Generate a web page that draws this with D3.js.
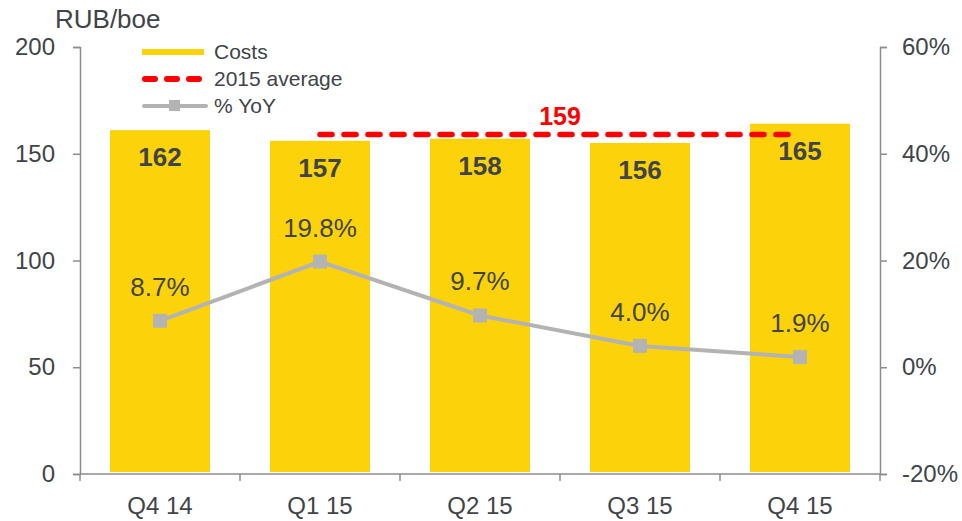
<!DOCTYPE html>
<html>
<head>
<meta charset="utf-8">
<script src="https://cdn.jsdelivr.net/npm/d3@7"></script>
<style>
  body { margin: 0; background: #fff; }
  svg text { font-family: "Liberation Sans", Arial, sans-serif; }
</style>
</head>
<body>
<div id="chart"></div>
<script>
// 資料
var quarters = ["Q4 14", "Q1 15", "Q2 15", "Q3 15", "Q4 15"];
var costs = [162, 157, 158, 156, 165];
var yoy = [8.7, 19.8, 9.7, 4.0, 1.9];
var avgQuarters = ["Q1 15", "Q4 15"];
var avgValue = 159;
var leftTicks = [0, 50, 100, 150, 200];
var rightTicks = [-20, 0, 20, 40, 60];

var width = 962, height = 521;
var margin = { left: 80, right: 82, top: 47, bottom: 47 };
var textColor = "#404448";
var axisColor = "#8c8c8c";

var svg = d3.select("#chart").append("svg")
  .attr("width", width)
  .attr("height", height);

var x = d3.scaleBand()
  .domain(quarters)
  .range([margin.left, width - margin.right])
  .paddingInner(0.375)
  .paddingOuter(0.1875);

var y = d3.scaleLinear().domain([0, 200]).range([height - margin.bottom, margin.top]);
var y2 = d3.scaleLinear().domain([-20, 60]).range([height - margin.bottom, margin.top]);

// 柱狀圖
svg.selectAll("rect.bar")
  .data(costs)
  .enter().append("rect")
  .attr("class", "bar")
  .attr("x", (d, i) => x(quarters[i]))
  .attr("width", x.bandwidth())
  .attr("y", d => y(d) + 2)
  .attr("height", d => y(0) - y(d) - 4)
  .attr("fill", "#FCD20A");

// 柱狀圖標籤
svg.selectAll("text.barlabel")
  .data(costs)
  .enter().append("text")
  .attr("class", "barlabel")
  .attr("x", (d, i) => x(quarters[i]) + x.bandwidth() / 2)
  .attr("y", d => y(d) + 38)
  .attr("text-anchor", "middle")
  .style("font-size", "26px")
  .style("font-weight", "bold")
  .attr("fill", textColor)
  .text(d => d);

// 坐標軸
function styleAxis(g) {
  g.select(".domain").attr("stroke", axisColor).attr("stroke-width", 1.5);
  g.selectAll(".tick line").attr("stroke", axisColor).attr("stroke-width", 1.5);
  g.selectAll(".tick text").attr("fill", textColor).style("font-size", "24px");
}

svg.append("g")
  .attr("transform", "translate(" + margin.left + ",0)")
  .call(d3.axisLeft(y).tickValues(leftTicks).tickSizeOuter(0).tickSize(7).tickPadding(18))
  .call(styleAxis);

svg.append("g")
  .attr("transform", "translate(" + (width - margin.right) + ",0)")
  .call(d3.axisRight(y2).tickValues(rightTicks).tickFormat(d => d + "%").tickSizeOuter(0).tickSize(7).tickPadding(15))
  .call(styleAxis);

// X 軸 (分隔刻度)
var xAxisG = svg.append("g")
  .attr("transform", "translate(0," + y(0) + ")");
xAxisG.append("line")
  .attr("x1", margin.left).attr("x2", width - margin.right)
  .attr("stroke", axisColor).attr("stroke-width", 1.5);
var step = x.step();
var bounds = d3.range(quarters.length + 1).map(i => x(quarters[0]) - (x.paddingInner() * step) / 2 + i * step);
xAxisG.selectAll("line.sep")
  .data(bounds)
  .enter().append("line")
  .attr("class", "sep")
  .attr("x1", d => d).attr("x2", d => d)
  .attr("y1", 0).attr("y2", 7)
  .attr("stroke", axisColor).attr("stroke-width", 1.5);
xAxisG.selectAll("text")
  .data(quarters)
  .enter().append("text")
  .attr("x", d => x(d) + x.bandwidth() / 2)
  .attr("y", 40)
  .attr("text-anchor", "middle")
  .attr("fill", textColor)
  .style("font-size", "24px")
  .text(d => d);

// 2015 平均線
var cx = d => x(d) + x.bandwidth() / 2;
svg.append("line")
  .attr("x1", cx(avgQuarters[0]))
  .attr("x2", cx(avgQuarters[1]))
  .attr("y1", y(avgValue))
  .attr("y2", y(avgValue))
  .attr("stroke", "#FF0000")
  .attr("stroke-width", 5.5)
  .attr("stroke-linecap", "round")
  .attr("stroke-dasharray", "12,12");

svg.append("text")
  .attr("x", (cx(avgQuarters[0]) + cx(avgQuarters[1])) / 2)
  .attr("y", y(avgValue) - 10)
  .attr("text-anchor", "middle")
  .attr("fill", "#FF0000")
  .style("font-size", "25px")
  .style("font-weight", "bold")
  .text(avgValue);

// % YoY 折線
var line = d3.line()
  .x((d, i) => cx(quarters[i]))
  .y(d => y2(d));

svg.append("path")
  .datum(yoy)
  .attr("d", line)
  .attr("fill", "none")
  .attr("stroke", "#B3B3B3")
  .attr("stroke-width", 4);

svg.selectAll("rect.marker")
  .data(yoy)
  .enter().append("rect")
  .attr("class", "marker")
  .attr("x", (d, i) => cx(quarters[i]) - 7)
  .attr("y", d => y2(d) - 7)
  .attr("width", 14)
  .attr("height", 14)
  .attr("fill", "#B3B3B3");

svg.selectAll("text.yoylabel")
  .data(yoy)
  .enter().append("text")
  .attr("class", "yoylabel")
  .attr("x", (d, i) => cx(quarters[i]))
  .attr("y", d => y2(d) - 25)
  .attr("text-anchor", "middle")
  .attr("fill", textColor)
  .style("font-size", "26px")
  .text(d => d.toFixed(1) + "%");

// 單位
svg.append("text")
  .attr("x", 55)
  .attr("y", 28)
  .attr("fill", textColor)
  .style("font-size", "26px")
  .text("RUB/boe");

// 圖例
var legend = svg.append("g").attr("transform", "translate(142,0)");
legend.append("line")
  .attr("x1", 0).attr("x2", 62).attr("y1", 52).attr("y2", 52)
  .attr("stroke", "#FCD20A").attr("stroke-width", 6);
legend.append("line")
  .attr("x1", 3).attr("x2", 59).attr("y1", 79).attr("y2", 79)
  .attr("stroke", "#FF0000").attr("stroke-width", 6)
  .attr("stroke-linecap", "round").attr("stroke-dasharray", "10,12");
legend.append("line")
  .attr("x1", 2).attr("x2", 64).attr("y1", 106).attr("y2", 106)
  .attr("stroke", "#B3B3B3").attr("stroke-width", 4)
  .attr("stroke-linecap", "round");
legend.append("rect")
  .attr("x", 27).attr("y", 100).attr("width", 11).attr("height", 11)
  .attr("fill", "#B3B3B3");
var legendLabels = ["Costs", "2015 average", "% YoY"];
legend.selectAll("text")
  .data(legendLabels)
  .enter().append("text")
  .attr("x", 72)
  .attr("y", (d, i) => 59 + i * 27)
  .attr("fill", textColor)
  .style("font-size", "21px")
  .text(d => d);
</script>
</body>
</html>
